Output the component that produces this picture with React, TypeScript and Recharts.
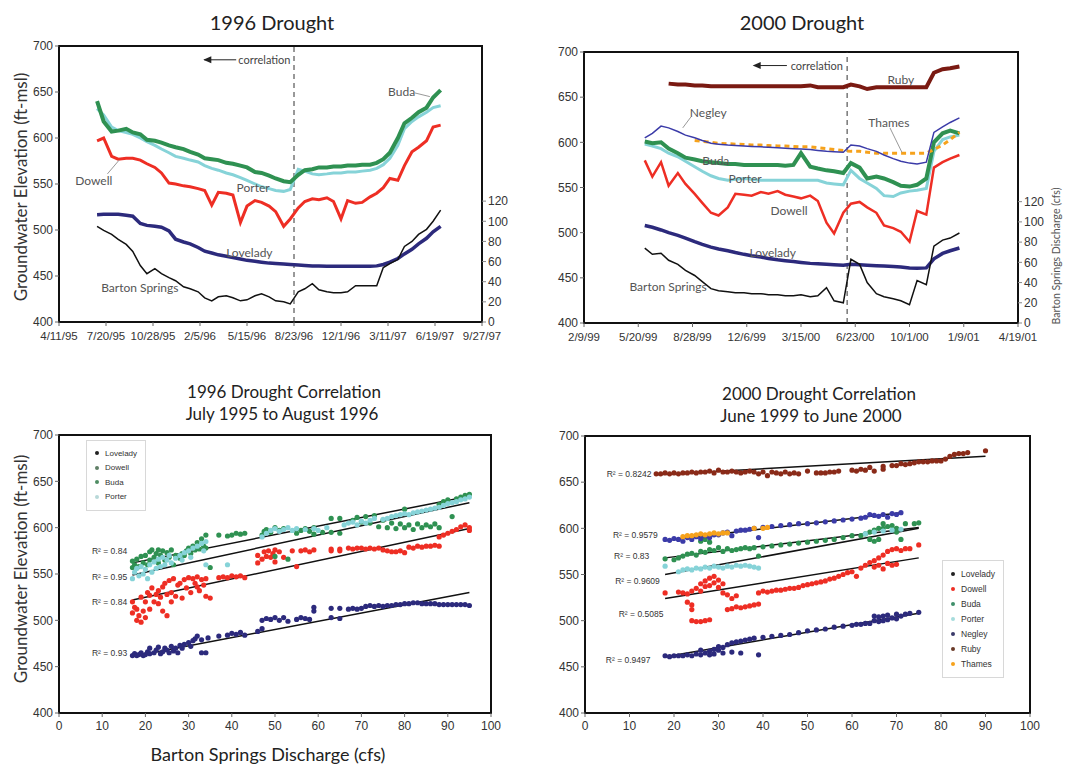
import React from "react";
import {
  ComposedChart,
  ScatterChart,
  Line,
  Scatter,
  XAxis,
  YAxis,
  ReferenceLine,
  ReferenceDot,
  ReferenceArea,
} from "recharts";

// ---------- 1996 drought hydrographs (semi-monthly readings) ----------
const dates96 = [
  "7/1/95", "7/15/95", "8/1/95", "8/15/95", "9/1/95", "9/15/95", "10/1/95", "10/15/95", "11/1/95", "11/15/95",
  "12/1/95", "12/15/95", "1/1/96", "1/15/96", "2/1/96", "2/15/96", "3/1/96", "3/15/96", "4/1/96", "4/15/96",
  "5/1/96", "5/15/96", "6/1/96", "6/15/96", "7/1/96", "7/15/96", "8/1/96", "8/15/96", "9/1/96", "9/15/96",
  "10/1/96", "10/15/96", "11/1/96", "11/15/96", "12/1/96", "12/15/96", "1/1/97", "1/15/97", "2/1/97", "2/15/97",
  "3/1/97", "3/15/97", "4/1/97", "4/15/97", "5/1/97", "5/15/97", "6/1/97", "6/15/97", "7/1/97",
];
const buda96 = [
  640, 618, 607, 608, 610, 606, 604, 598, 597, 595, 592, 590, 588, 585, 582, 578, 577, 576, 573, 572,
  570, 568, 563, 562, 559, 556, 553, 552, 560, 565, 566, 568, 568, 569, 569, 570, 570, 571, 571, 573,
  577, 584, 600, 616, 622, 628, 633, 644, 652,
];
const porter96 = [
  632, 625, 612, 608, 606, 604, 600, 596, 592, 588, 584, 580, 578, 576, 574, 570, 567, 565, 562, 560,
  557, 554, 550, 547, 545, 543, 542, 544, 566, 564, 561, 560, 561, 562, 562, 563, 563, 564, 565, 567,
  571, 578, 592, 610, 618, 623, 628, 633, 635,
];
const dowell96 = [
  597, 600, 580, 577, 578, 578, 576, 572, 568, 562, 551, 550, 548, 547, 545, 543, 527, 541, 540, 538,
  508, 526, 532, 530, 526, 520, 504, 512, 524, 531, 534, 533, 535, 531, 512, 532, 529, 530, 536, 540,
  546, 556, 554, 570, 585, 590, 597, 612, 614,
];
const lovelady96 = [
  516.5, 517, 517, 517, 516, 515, 507, 505, 504, 503, 499, 490, 487, 485, 481, 477, 475, 473, 471.5, 470,
  468.5, 467, 466, 465, 464, 463.5, 463, 462.5, 462, 461.5, 461, 461, 460.5, 460.5, 460.5, 460.5, 460.5, 460.5, 460.5, 461,
  462.5, 465, 469, 474, 479, 485, 491, 498, 504,
];
const barton96 = [
  95, 91, 87, 82, 77, 70, 56, 48, 53, 48, 44, 41, 35, 33, 30, 24, 21, 25, 26, 24,
  21, 22, 26, 28, 25, 21, 20, 18, 30, 33, 38, 32, 30, 29, 29, 30, 36, 36, 36, 36,
  54, 58, 62, 75, 80, 87, 92, 100, 111,
];
const ticks96 = ["4/11/95", "7/20/95", "10/28/95", "2/5/96", "5/15/96", "8/23/96", "12/1/96", "3/11/97", "6/19/97", "9/27/97"];

// ---------- 2000 drought hydrographs ----------
const dates00 = [
  "6/1/99", "6/15/99", "7/1/99", "7/15/99", "8/1/99", "8/15/99", "9/1/99", "9/15/99", "10/1/99", "10/15/99",
  "11/1/99", "11/15/99", "12/1/99", "12/15/99", "1/1/00", "1/15/00", "2/1/00", "2/15/00", "3/1/00", "3/15/00",
  "4/1/00", "4/15/00", "5/1/00", "5/15/00", "6/1/00", "6/15/00", "7/1/00", "7/15/00", "8/1/00", "8/15/00",
  "9/1/00", "9/15/00", "10/1/00", "10/15/00", "11/1/00", "11/15/00", "12/1/00", "12/15/00", "1/1/01",
];
const ruby00 = [
  null, null, null, 665, 664, 664, 663, 663, 662, 662, 662, 662, 662, 662, 662, 662, 662, 662, 662, 662,
  663, 661, 661, 661, 661, 664, 662, 659, 661, 661, 661, 661, 661, 661, 661, 677, 681, 682, 684,
];
const negley00 = [
  605, 610, 618, 616, 612, 608, 605, 602, 599, 598, 597, 596.5, 596, 595.5, 595, 594.5, 594, 593.5, 593, 592.5,
  592, 591, 590, 589.5, 589, 597, 596, 593, 590, 586, 582, 579, 577, 576, 578, 611, 617, 622, 627,
];
const thames00 = [
  null, null, null, null, null, null, 602, 601, 600, 599, 598.5, 598, 597.5, 597, 597, 596.5, 596, 596, 595.5, 595,
  595, 594, 593, 592, 591, 590, 590, 589, 588, 588, 588, 588, 588, 588, 588, 592, 597, 603, 611,
];
const buda00 = [
  601, 599, 600, 593, 588, 583, 581, 579, 578, 577, 576, 576, 575, 575, 575, 575, 575, 574, 575, 588,
  573, 571, 569, 568, 566, 577, 572, 560, 562, 560, 556, 552, 551, 553, 560, 600, 610, 613, 610,
];
const porter00 = [
  598, 596, 593, 588, 584, 579, 573, 568, 563, 560, 558, 559, 560, 559, 558, 558, 558, 558, 558, 558,
  558, 558, 555, 554, 553, 569, 560, 555, 549, 541, 540, 544, 546, 547, 549, 590, 603, 606, 608,
];
const dowell00 = [
  580, 562, 578, 552, 566, 554, 543, 533, 522, 519, 528, 543, 542, 541, 545, 543, 546, 542, 540, 538,
  541, 535, 511, 499, 522, 532, 534, 528, 522, 508, 505, 501, 490, 524, 520, 572, 578, 582, 586,
];
const lovelady00 = [
  508, 506, 503, 500, 497, 494, 490, 487, 484, 482, 480, 478, 476, 474.5, 473, 471.5, 470, 469, 468, 467,
  466, 465.5, 465, 464.5, 464, 465, 464.5, 464, 463.5, 463, 462.5, 462, 461, 460.5, 461, 471, 477, 480, 483,
];
const barton00 = [
  74, 68, 69, 62, 58, 52, 47, 41, 34, 32, 31, 30, 30, 29, 29, 28, 28, 27, 27, 28,
  26, 27, 35, 22, 20, 63, 58, 40, 29, 26, 24, 22, 18, 42, 38, 76, 82, 84, 89,
];
const ticks00 = ["2/9/99", "5/20/99", "8/28/99", "12/6/99", "3/15/00", "6/23/00", "10/1/00", "1/9/01", "4/19/01"];

const elevTicks = [400, 450, 500, 550, 600, 650, 700];
const flowTicks = [0, 20, 40, 60, 80, 100, 120];
const cfsTicks = [0, 10, 20, 30, 40, 50, 60, 70, 80, 90, 100];

// ---------- 1996 correlation (discharge cfs, elevation ft) ----------
const lovelady96pts = [
  [17, 462], [17.5, 464], [18, 462], [18.5, 463], [19, 465], [19.5, 462], [20, 463], [20.5, 466], [21, 464], [21, 470],
  [22, 465], [22.5, 468], [23, 471], [23.5, 464], [24, 466], [24.5, 470], [25, 468], [25.5, 465], [26, 472], [26.5, 467],
  [27, 470], [27.5, 465], [28, 473], [28.5, 470], [29, 474], [30, 476], [30.5, 472], [31, 478], [31.5, 480], [32, 483],
  [33, 465], [33, 479], [34, 465], [34.5, 481], [37, 483], [39, 484], [40, 486], [41, 485], [42, 487], [43, 484],
  [46, 488], [47, 491], [47, 500], [48, 502], [49, 501], [50, 503], [51, 500], [52, 503], [53, 499], [55, 501],
  [56, 503], [57, 502], [58, 501], [59, 510], [59, 514], [63, 503], [63, 513], [65, 502], [65, 513], [67, 512],
  [68, 513], [69, 512], [70, 513], [71, 515], [72, 516], [73, 515], [74, 516], [75, 515], [76, 516], [77, 516],
  [78, 517], [79, 517], [80, 518], [81, 518], [82, 519], [83, 519], [84, 518], [85, 518], [86, 518], [87, 518],
  [88, 517], [89, 517], [90, 517], [91, 517], [92, 517], [93, 517], [94, 517], [95, 516],
];
const dowell96pts = [
  [17, 520], [17, 508], [17.5, 514], [18, 512], [18, 500], [18.5, 505], [19, 498], [19, 525], [19.5, 510], [20, 503],
  [20, 520], [20.5, 530], [21, 527], [21, 512], [21.5, 535], [22, 520], [22.5, 528], [23, 532], [23, 518], [23.5, 525],
  [24, 536], [24, 510], [24.5, 540], [25, 528], [25, 505], [25.5, 543], [26, 530], [26, 520], [26.5, 545], [27, 526],
  [27.5, 538], [28, 540], [28.5, 524], [29, 544], [29.5, 535], [30, 546], [30.5, 530], [31, 545], [31.5, 540], [32, 547],
  [32, 536], [32.5, 532], [33, 544], [33.5, 538], [34, 526], [34, 545], [35, 524], [37, 546], [38, 547], [39, 546],
  [40, 548], [41, 547], [42, 548], [43, 546], [46, 562], [46, 570], [47, 566], [47.5, 574], [48, 569], [48.5, 575],
  [49, 568], [49.5, 572], [50, 576], [50, 563], [51, 574], [52, 568], [54, 575], [55, 558], [56, 575], [57, 576],
  [58, 574], [59, 576], [63, 577], [63, 575], [65, 577], [65, 575], [67, 578], [68, 577], [69, 578], [70, 578],
  [71, 577], [72, 578], [73, 577], [74, 578], [75, 576], [76, 575], [77, 574], [78, 574], [79, 575], [80, 573],
  [81, 579], [82, 578], [83, 580], [84, 579], [85, 580], [86, 580], [87, 581], [88, 580], [88, 590], [89, 592],
  [90, 594], [91, 596], [92, 598], [93, 601], [94, 603], [95, 597], [95, 600],
];
const buda96pts = [
  [17, 557], [17, 564], [17.5, 560], [18, 566], [18.5, 558], [19, 569], [19.5, 562], [20, 570], [20.5, 560], [21, 574],
  [21, 565], [21.5, 576], [22, 568], [22.5, 572], [23, 576], [23, 562], [23.5, 570], [24, 575], [24.5, 565], [25, 573],
  [25.5, 568], [26, 576], [26.5, 560], [27, 570], [28, 567], [28.5, 572], [29, 570], [29.5, 575], [30, 578], [30.5, 572],
  [31, 580], [31.5, 576], [32, 584], [32.5, 577], [33, 588], [33.5, 580], [34, 592], [34, 578], [35, 557], [37, 592],
  [39, 591], [40, 592], [41, 594], [42, 593], [43, 594], [47, 592], [47.5, 596], [48, 598], [49, 595], [50, 600],
  [50, 569], [51, 597], [52, 599], [53, 566], [55, 594], [56, 597], [57, 599], [58, 596], [59, 593], [59, 600],
  [61, 595], [63, 610], [63, 595], [65, 610], [65, 594], [68, 608], [69, 611], [70, 606], [71, 612], [72, 605],
  [73, 613], [74, 601], [75, 608], [76, 600], [77, 605], [78, 599], [79, 604], [80, 620], [80, 600], [81, 603],
  [82, 598], [83, 604], [84, 600], [85, 603], [86, 601], [87, 604], [88, 600], [88, 625], [89, 628], [90, 630],
  [91, 612], [92, 631], [93, 633], [94, 635], [95, 636],
];
const porter96pts = [
  [17, 545], [17.5, 552], [18, 556], [18.5, 548], [19, 558], [19.5, 550], [20, 555], [20.5, 545], [21, 560], [21.5, 552],
  [22, 563], [22.5, 556], [23, 566], [23.5, 558], [24, 568], [24.5, 560], [25, 565], [25.5, 570], [26, 562], [27, 567],
  [28, 570], [28.5, 565], [29, 573], [30, 575], [30.5, 568], [31, 578], [32, 580], [33, 583], [33.5, 575], [34, 585],
  [34, 560], [39, 560], [47, 590], [48, 594], [49, 597], [50, 599], [51, 596], [52, 598], [53, 600], [54, 597],
  [55, 599], [57, 598], [59, 599], [60, 597], [62, 600], [66, 603], [67, 605], [68, 606], [69, 603], [70, 607],
  [71, 605], [72, 608], [73, 610], [75, 609], [76, 610], [77, 612], [78, 613], [79, 614], [80, 615], [81, 614],
  [82, 616], [83, 617], [84, 618], [85, 619], [86, 620], [87, 621], [88, 622], [89, 624], [90, 626], [91, 627],
  [92, 628], [93, 630], [94, 631], [95, 633],
];
const fitLovelady96 = [[17, 461], [95, 530]];
const fitDowell96 = [[17, 522], [95, 599]];
const fitBuda96 = [[17, 562], [95, 634]];
const fitPorter96 = [[17, 549], [95, 627]];

// ---------- 2000 correlation ----------
const ruby00pts = [
  [16, 659], [17, 659], [18, 660], [19, 659], [20, 660], [21, 659], [22, 660], [23, 660], [24, 661], [25, 660],
  [26, 661], [27, 661], [28, 662], [29, 660], [30, 663], [31, 661], [32, 661], [33, 662], [34, 661], [35, 660],
  [36, 661], [37, 662], [38, 661], [39, 659], [40, 661], [41, 657], [42, 661], [43, 660], [44, 659], [45, 661],
  [46, 659], [47, 660], [48, 659], [50, 662], [52, 660], [53, 660], [54, 660], [55, 661], [56, 661], [57, 662],
  [60, 663], [61, 662], [62, 664], [63, 663], [64, 666], [65, 662], [67, 664], [67, 667], [69, 668], [70, 668],
  [71, 670], [72, 669], [73, 670], [74, 671], [75, 672], [76, 672], [77, 672], [78, 673], [79, 673], [80, 673],
  [81, 675], [82, 678], [83, 680], [84, 681], [85, 681], [86, 682], [90, 684],
];
const negley00pts = [
  [18, 588], [19, 587], [20, 589], [21, 588], [22, 586], [23, 590], [24, 588], [25, 591], [26, 589], [27, 592],
  [28, 590], [29, 593], [30, 593], [31, 595], [32, 596], [33, 592], [34, 597], [35, 598], [36, 598], [37, 599],
  [38, 600], [39, 590], [40, 601], [42, 602], [44, 603], [46, 604], [48, 605], [50, 605], [52, 606], [54, 607],
  [56, 608], [58, 609], [60, 610], [62, 611], [63, 612], [64, 615], [65, 614], [66, 613], [67, 615], [68, 612],
  [69, 616], [70, 615], [71, 617],
];
const thames00pts = [
  [22, 591], [23, 592], [24, 592], [25, 593], [26, 594], [27, 593], [28, 594], [29, 595], [30, 594], [31, 595],
  [32, 595], [38, 600], [40, 600], [41, 601],
];
const buda00pts = [
  [18, 567], [20, 566], [21, 568], [22, 570], [23, 572], [24, 573], [25, 571], [26, 575], [26, 586], [27, 574],
  [27, 588], [28, 577], [28, 585], [29, 576], [30, 579], [31, 575], [32, 578], [33, 576], [34, 577], [35, 578],
  [36, 579], [37, 578], [38, 579], [39, 570], [40, 580], [42, 581], [44, 582], [46, 583], [48, 584], [50, 585],
  [52, 586], [54, 587], [56, 588], [58, 590], [60, 592], [62, 592], [63, 594], [64, 596], [64, 588], [65, 598],
  [65, 586], [66, 600], [66, 588], [67, 605], [67, 600], [68, 602], [69, 603], [70, 600], [70, 596], [71, 588],
  [72, 605], [74, 605], [75, 606],
];
const porter00pts = [
  [18, 559], [21, 553], [22, 555], [23, 556], [24, 555], [25, 557], [26, 556], [27, 558], [28, 557], [29, 559],
  [30, 558], [31, 557], [32, 559], [33, 558], [34, 560], [35, 559], [36, 560], [37, 559], [38, 558], [39, 557],
  [63, 594], [65, 596], [67, 597], [69, 598], [71, 599],
];
const dowell00pts = [
  [18, 530], [21, 531], [22, 530], [23, 529], [23, 520], [24, 532], [24, 517], [24, 512], [24, 500], [25, 499],
  [26, 499], [27, 500], [28, 501], [25, 535], [26, 540], [26, 532], [27, 543], [27, 537], [28, 546], [28, 538],
  [29, 548], [29, 541], [30, 544], [30, 536], [31, 540], [31, 530], [32, 528], [32, 512], [33, 524], [33, 513],
  [34, 515], [34, 527], [35, 514], [36, 515], [37, 516], [38, 517], [39, 518], [39, 530], [40, 532], [41, 531],
  [42, 532], [43, 533], [44, 533], [45, 534], [46, 535], [47, 535], [48, 536], [49, 538], [50, 539], [51, 540],
  [52, 541], [53, 542], [54, 543], [55, 545], [56, 546], [57, 548], [58, 550], [59, 552], [60, 553], [61, 548],
  [62, 557], [63, 560], [64, 563], [65, 565], [65, 558], [66, 568], [66, 560], [67, 571], [67, 556], [68, 575],
  [68, 562], [69, 577], [69, 560], [70, 578], [70, 561], [71, 576], [72, 578], [73, 578], [75, 582],
];
const lovelady00pts = [
  [18, 462], [19, 461], [20, 462], [21, 462], [22, 462], [23, 463], [24, 462], [25, 464], [26, 463], [26, 468],
  [27, 465], [28, 467], [28, 463], [29, 469], [29, 464], [30, 468], [30, 472], [31, 471], [31, 465], [32, 474],
  [33, 476], [33, 466], [34, 477], [35, 465], [35, 478], [36, 479], [37, 480], [38, 481], [39, 463], [40, 482],
  [42, 483], [44, 484], [46, 485], [48, 487], [50, 489], [52, 490], [54, 491], [56, 493], [58, 494], [60, 495],
  [61, 496], [62, 496], [63, 497], [64, 497], [65, 500], [65, 505], [66, 499], [66, 504], [67, 505], [67, 500],
  [68, 501], [68, 506], [69, 503], [70, 507], [70, 502], [71, 505], [72, 507], [73, 508], [75, 509],
];
const fitRuby00 = [[16, 658], [90, 678]];
const fitNegley00 = [[18, 587], [71, 617]];
const fitBuda00 = [[18, 568], [75, 601]];
const fitPorter00 = [[18, 550], [75, 600]];
const fitDowell00 = [[18, 524], [75, 568]];
const fitLovelady00 = [[18, 461], [75, 508]];

// ---------- helpers ----------
const toTime = (s: string) => {
  const [m, d, y] = s.split("/").map(Number);
  return Date.UTC(y < 50 ? 2000 + y : 1900 + y, m - 1, d);
};
const shortDate = (t: number) => {
  const dt = new Date(t);
  return `${dt.getUTCMonth() + 1}/${dt.getUTCDate()}/${String(dt.getUTCFullYear() % 100).padStart(2, "0")}`;
};
const pts = (a: number[][]) => a.map(([x, y]) => ({ x, y }));

const rows96 = dates96.map((d, i) => ({
  t: toTime(d),
  buda: buda96[i],
  porter: porter96[i],
  dowell: dowell96[i],
  lovelady: lovelady96[i],
  barton: barton96[i],
}));
const rows00 = dates00.map((d, i) => ({
  t: toTime(d),
  ruby: ruby00[i],
  negley: negley00[i],
  thames: thames00[i],
  buda: buda00[i],
  porter: porter00[i],
  dowell: dowell00[i],
  lovelady: lovelady00[i],
  barton: barton00[i],
}));

const FONT = "'Liberation Sans', Arial, sans-serif";
const TITLE = "Lato, 'Open Sans', sans-serif";
const COL = {
  navy: "#2c2a7c",
  red: "#ee2e24",
  green: "#2f9152",
  cyan: "#86d3d8",
  ruby: "#7a1a12",
  negley: "#3b3ba8",
  thames: "#f6a21c",
  black: "#111",
};
const tickStyle = { fontSize: 12, fill: "#333", fontFamily: FONT };
const dateTick = { fontSize: 11.5, fill: "#333", fontFamily: FONT };

const note = (text: string, size = 12, fill = "#555", font = TITLE) => (p: any) => (
  <text x={p.cx} y={p.cy} textAnchor="middle" dominantBaseline="central" fontSize={size} fill={fill} fontFamily={font}>
    {text}
  </text>
);
const arrowHead = (p: any) => <path d={`M${p.cx},${p.cy} l8,-3.5 l0,7 z`} fill="#222" />;
const dot = (p: any) => <circle cx={p.cx} cy={p.cy} r={2.6} fill={p.fill} />;

const Title = ({ x, y, size, children }: any) => (
  <div
    style={{
      position: "absolute",
      left: x,
      top: y,
      transform: "translate(-50%,-50%)",
      fontFamily: TITLE,
      fontSize: size,
      color: "#222",
      whiteSpace: "nowrap",
      lineHeight: 1,
    }}
  >
    {children}
  </div>
);
const VTitle = ({ x, y, size, color = "#333", children }: any) => (
  <div
    style={{
      position: "absolute",
      left: x,
      top: y,
      transform: "translate(-50%,-50%) rotate(-90deg)",
      fontFamily: TITLE,
      fontSize: size,
      color,
      whiteSpace: "nowrap",
      lineHeight: 1,
    }}
  >
    {children}
  </div>
);
const LegendBox = ({ x, y, items, size = 8.5, gap = 14.5 }: any) => (
  <div
    style={{
      position: "absolute",
      left: x,
      top: y,
      border: "1px solid #d8d8d8",
      background: "#fff",
      padding: "5px 8px 6px 8px",
      fontFamily: FONT,
      fontSize: size,
      color: "#333",
    }}
  >
    {items.map((it: any) => (
      <div key={it.name} style={{ display: "flex", alignItems: "center", height: gap }}>
        <span
          style={{ width: 4, height: 4, borderRadius: 2, background: it.color, display: "inline-block", marginRight: 6 }}
        />
        {it.name}
      </div>
    ))}
  </div>
);

function Drought1996() {
  const dom = [toTime(ticks96[0]), toTime(ticks96[ticks96.length - 1])];
  const ref = toTime("8/23/96");
  return (
    <ComposedChart width={540} height={345} data={rows96} margin={{ top: 46, right: 18, bottom: 0, left: 0 }}>
      <XAxis
        dataKey="t"
        type="number"
        domain={dom}
        ticks={ticks96.map(toTime)}
        tickFormatter={shortDate}
        height={23}
        tick={dateTick}
        tickSize={4}
        tickMargin={6}
        axisLine={false}
        interval={0}
      />
      <YAxis yAxisId="ft" domain={[400, 700]} ticks={elevTicks} width={59} tick={tickStyle} tickSize={4} axisLine={false} />
      <YAxis
        yAxisId="q"
        orientation="right"
        domain={[0, 274]}
        ticks={flowTicks}
        width={40}
        tick={tickStyle}
        tickSize={4}
        axisLine={false}
        tickLine={{ stroke: "#888" }}
      />
      <ReferenceArea yAxisId="ft" x1={dom[0]} x2={dom[1]} y1={400} y2={700} fill="none" stroke="#111" strokeWidth={2} ifOverflow="visible" />
      <ReferenceLine yAxisId="ft" x={ref} stroke="#333" strokeDasharray="5 4" />
      <Line yAxisId="ft" dataKey="porter" stroke={COL.cyan} strokeWidth={3} dot={false} isAnimationActive={false} />
      <Line yAxisId="ft" dataKey="buda" stroke={COL.green} strokeWidth={4} dot={false} isAnimationActive={false} />
      <Line yAxisId="ft" dataKey="dowell" stroke={COL.red} strokeWidth={3} dot={false} isAnimationActive={false} />
      <Line yAxisId="ft" dataKey="lovelady" stroke={COL.navy} strokeWidth={3.5} dot={false} isAnimationActive={false} />
      <Line yAxisId="q" dataKey="barton" stroke={COL.black} strokeWidth={1.5} dot={false} isAnimationActive={false} />
      <ReferenceLine yAxisId="ft" segment={[{ x: toTime("4/22/96"), y: 685 }, { x: toTime("2/14/96"), y: 685 }]} stroke="#222" />
      <ReferenceDot yAxisId="ft" x={toTime("2/12/96")} y={685} r={0} shape={arrowHead} />
      <ReferenceDot yAxisId="ft" x={toTime("6/21/96")} y={685.5} r={0} shape={note("correlation", 11, "#444")} />
      <ReferenceDot yAxisId="ft" x={toTime("4/9/97")} y={651} r={0} shape={note("Buda")} />
      <ReferenceLine yAxisId="ft" segment={[{ x: toTime("5/7/97"), y: 649 }, { x: toTime("6/8/97"), y: 645 }]} stroke="#999" />
      <ReferenceDot yAxisId="ft" x={toTime("6/24/95")} y={554} r={0} shape={note("Dowell")} />
      <ReferenceLine yAxisId="ft" segment={[{ x: toTime("7/23/95"), y: 561 }, { x: toTime("8/17/95"), y: 576 }]} stroke="#999" />
      <ReferenceDot yAxisId="ft" x={toTime("5/28/96")} y={546.5} r={0} shape={note("Porter")} />
      <ReferenceDot yAxisId="ft" x={toTime("5/20/96")} y={476} r={0} shape={note("Lovelady")} />
      <ReferenceDot yAxisId="ft" x={toTime("9/30/95")} y={438} r={0} shape={note("Barton Springs")} />
    </ComposedChart>
  );
}

function Drought2000() {
  const dom = [toTime(ticks00[0]), toTime(ticks00[ticks00.length - 1])];
  const ref = toTime("6/8/00");
  return (
    <ComposedChart width={529} height={346} data={rows00} margin={{ top: 52, right: 11, bottom: 0, left: 0 }}>
      <XAxis
        dataKey="t"
        type="number"
        domain={dom}
        ticks={ticks00.map(toTime)}
        tickFormatter={shortDate}
        height={23}
        tick={dateTick}
        tickSize={4}
        tickMargin={6}
        axisLine={false}
        interval={0}
      />
      <YAxis yAxisId="ft" domain={[400, 700]} ticks={elevTicks} width={44} tick={tickStyle} tickSize={4} axisLine={false} />
      <YAxis
        yAxisId="q"
        orientation="right"
        domain={[0, 268]}
        ticks={flowTicks}
        width={40}
        tick={tickStyle}
        tickSize={4}
        axisLine={false}
        tickLine={{ stroke: "#888" }}
      />
      <ReferenceArea yAxisId="ft" x1={dom[0]} x2={dom[1]} y1={400} y2={700} fill="none" stroke="#111" strokeWidth={2} ifOverflow="visible" />
      <ReferenceLine yAxisId="ft" x={ref} stroke="#333" strokeDasharray="5 4" />
      <Line yAxisId="ft" dataKey="porter" stroke={COL.cyan} strokeWidth={3} dot={false} isAnimationActive={false} />
      <Line yAxisId="ft" dataKey="buda" stroke={COL.green} strokeWidth={4} dot={false} isAnimationActive={false} />
      <Line yAxisId="ft" dataKey="thames" stroke={COL.thames} strokeWidth={3} strokeDasharray="5 4" dot={false} isAnimationActive={false} />
      <Line yAxisId="ft" dataKey="negley" stroke={COL.negley} strokeWidth={1.5} dot={false} isAnimationActive={false} />
      <Line yAxisId="ft" dataKey="dowell" stroke={COL.red} strokeWidth={2.5} dot={false} isAnimationActive={false} />
      <Line yAxisId="ft" dataKey="ruby" stroke={COL.ruby} strokeWidth={4} dot={false} isAnimationActive={false} />
      <Line yAxisId="ft" dataKey="lovelady" stroke={COL.navy} strokeWidth={3.5} dot={false} isAnimationActive={false} />
      <Line yAxisId="q" dataKey="barton" stroke={COL.black} strokeWidth={1.5} dot={false} isAnimationActive={false} />
      <ReferenceLine yAxisId="ft" segment={[{ x: toTime("2/18/00"), y: 685 }, { x: toTime("12/19/99"), y: 685 }]} stroke="#222" />
      <ReferenceDot yAxisId="ft" x={toTime("12/17/99")} y={685} r={0} shape={arrowHead} />
      <ReferenceDot yAxisId="ft" x={toTime("4/13/00")} y={685.5} r={0} shape={note("correlation", 11, "#444")} />
      <ReferenceDot yAxisId="ft" x={toTime("9/15/00")} y={670} r={0} shape={note("Ruby")} />
      <ReferenceDot yAxisId="ft" x={toTime("9/26/99")} y={633} r={0} shape={note("Negley")} />
      <ReferenceLine yAxisId="ft" segment={[{ x: toTime("8/25/99"), y: 628 }, { x: toTime("8/10/99"), y: 616 }]} stroke="#999" />
      <ReferenceDot yAxisId="ft" x={toTime("8/24/00")} y={622} r={0} shape={note("Thames")} />
      <ReferenceLine yAxisId="ft" segment={[{ x: toTime("8/26/00"), y: 616 }, { x: toTime("9/17/00"), y: 589 }]} stroke="#999" />
      <ReferenceDot yAxisId="ft" x={toTime("10/10/99")} y={579.5} r={0} shape={note("Buda")} />
      <ReferenceDot yAxisId="ft" x={toTime("12/3/99")} y={560.5} r={0} shape={note("Porter")} />
      <ReferenceDot yAxisId="ft" x={toTime("2/22/00")} y={525} r={0} shape={note("Dowell")} />
      <ReferenceDot yAxisId="ft" x={toTime("1/23/00")} y={477.5} r={0} shape={note("Lovelady")} />
      <ReferenceDot yAxisId="ft" x={toTime("7/14/99")} y={440} r={0} shape={note("Barton Springs")} />
    </ComposedChart>
  );
}

const fitLine = (f: number[][]) => (
  <ReferenceLine segment={pts(f)} stroke="#111" strokeWidth={1.5} ifOverflow="visible" />
);

function Corr1996() {
  return (
    <ScatterChart width={540} height={394} margin={{ top: 65, right: 49, bottom: 0, left: 0 }}>
      <XAxis dataKey="x" type="number" domain={[0, 100]} ticks={cfsTicks} height={51} tick={tickStyle} tickSize={4} tickMargin={4} axisLine={false} interval={0} />
      <YAxis dataKey="y" type="number" domain={[400, 700]} ticks={elevTicks} width={59} tick={tickStyle} tickSize={4} axisLine={false} />
      <ReferenceArea x1={0} x2={100} y1={400} y2={700} fill="none" stroke="#111" strokeWidth={2} ifOverflow="visible" />
      <Scatter name="Lovelady" data={pts(lovelady96pts)} fill={COL.navy} shape={dot} isAnimationActive={false} />
      <Scatter name="Dowell" data={pts(dowell96pts)} fill={COL.red} shape={dot} isAnimationActive={false} />
      <Scatter name="Buda" data={pts(buda96pts)} fill={COL.green} shape={dot} isAnimationActive={false} />
      <Scatter name="Porter" data={pts(porter96pts)} fill={COL.cyan} shape={dot} isAnimationActive={false} />
      {fitLine(fitLovelady96)}
      {fitLine(fitDowell96)}
      {fitLine(fitBuda96)}
      {fitLine(fitPorter96)}
      <ReferenceDot x={11.7} y={574.6} r={0} shape={note("R² = 0.84", 8.5, "#333", FONT)} />
      <ReferenceDot x={11.7} y={547} r={0} shape={note("R² = 0.95", 8.5, "#333", FONT)} />
      <ReferenceDot x={11.7} y={519.6} r={0} shape={note("R² = 0.84", 8.5, "#333", FONT)} />
      <ReferenceDot x={11.7} y={464.7} r={0} shape={note("R² = 0.93", 8.5, "#333", FONT)} />
    </ScatterChart>
  );
}

function Corr2000() {
  return (
    <ScatterChart width={529} height={394} margin={{ top: 66, right: 39, bottom: 0, left: 0 }}>
      <XAxis dataKey="x" type="number" domain={[0, 100]} ticks={cfsTicks} height={51} tick={tickStyle} tickSize={4} tickMargin={4} axisLine={false} interval={0} />
      <YAxis dataKey="y" type="number" domain={[400, 700]} ticks={elevTicks} width={45} tick={tickStyle} tickSize={4} axisLine={false} />
      <ReferenceArea x1={0} x2={100} y1={400} y2={700} fill="none" stroke="#111" strokeWidth={2} ifOverflow="visible" />
      <Scatter name="Lovelady" data={pts(lovelady00pts)} fill={COL.navy} shape={dot} isAnimationActive={false} />
      <Scatter name="Dowell" data={pts(dowell00pts)} fill={COL.red} shape={dot} isAnimationActive={false} />
      <Scatter name="Buda" data={pts(buda00pts)} fill={COL.green} shape={dot} isAnimationActive={false} />
      <Scatter name="Porter" data={pts(porter00pts)} fill={COL.cyan} shape={dot} isAnimationActive={false} />
      <Scatter name="Negley" data={pts(negley00pts)} fill={COL.negley} shape={dot} isAnimationActive={false} />
      <Scatter name="Ruby" data={pts(ruby00pts)} fill="#8a2a18" shape={dot} isAnimationActive={false} />
      <Scatter name="Thames" data={pts(thames00pts)} fill={COL.thames} shape={dot} isAnimationActive={false} />
      {fitLine(fitRuby00)}
      {fitLine(fitNegley00)}
      {fitLine(fitBuda00)}
      {fitLine(fitPorter00)}
      {fitLine(fitDowell00)}
      {fitLine(fitLovelady00)}
      <ReferenceDot x={9.9} y={658.4} r={0} shape={note("R² = 0.8242", 8.5, "#333", FONT)} />
      <ReferenceDot x={11.3} y={592.6} r={0} shape={note("R² = 0.9579", 8.5, "#333", FONT)} />
      <ReferenceDot x={10.5} y={570.2} r={0} shape={note("R² = 0.83", 8.5, "#333", FONT)} />
      <ReferenceDot x={11.8} y={543.1} r={0} shape={note("R² = 0.9609", 8.5, "#333", FONT)} />
      <ReferenceDot x={12.6} y={507.3} r={0} shape={note("R² = 0.5085", 8.5, "#333", FONT)} />
      <ReferenceDot x={9.7} y={457.8} r={0} shape={note("R² = 0.9497", 8.5, "#333", FONT)} />
    </ScatterChart>
  );
}

const legend96 = [
  { name: "Lovelady", color: "#222" },
  { name: "Dowell", color: "#5f7f66" },
  { name: "Buda", color: "#4f8d63" },
  { name: "Porter", color: "#b8d8d8" },
];
const legend00 = [
  { name: "Lovelady", color: "#222" },
  { name: "Dowell", color: COL.red },
  { name: "Buda", color: "#3f8f6a" },
  { name: "Porter", color: "#a6dcdc" },
  { name: "Negley", color: "#3a3a6a" },
  { name: "Ruby", color: "#6a3a28" },
  { name: "Thames", color: COL.thames },
];

export default function App() {
  return (
    <div style={{ position: "absolute", left: 0, top: 0, width: 1069, height: 764, background: "#fff", overflow: "hidden" }}>
      <div style={{ position: "absolute", left: 0, top: 0 }}>
        <Drought1996 />
      </div>
      <div style={{ position: "absolute", left: 540, top: 0 }}>
        <Drought2000 />
      </div>
      <div style={{ position: "absolute", left: 0, top: 370 }}>
        <Corr1996 />
      </div>
      <div style={{ position: "absolute", left: 540, top: 370 }}>
        <Corr2000 />
      </div>

      <Title x={272} y={22} size={20}>1996 Drought</Title>
      <Title x={802} y={22} size={20}>2000 Drought</Title>
      <Title x={284} y={391} size={17}>1996 Drought Correlation</Title>
      <Title x={282} y={413} size={17}>July 1995 to August 1996</Title>
      <Title x={819} y={393} size={17}>2000 Drought Correlation</Title>
      <Title x={811} y={415} size={17}>June 1999 to June 2000</Title>
      <Title x={268} y={754} size={18}>Barton Springs Discharge (cfs)</Title>
      <VTitle x={20} y={187} size={17}>Groundwater Elevation (ft-msl)</VTitle>
      <VTitle x={20} y={569} size={17}>Groundwater Elevation (ft-msl)</VTitle>
      <VTitle x={1056} y={256} size={10.5} color="#555">Barton Springs Discharge (cfs)</VTitle>

      <LegendBox x={86} y={440} items={legend96} size={8} gap={14.5} />
      <LegendBox x={942} y={560} items={legend00} size={8.5} gap={15} />
    </div>
  );
}
